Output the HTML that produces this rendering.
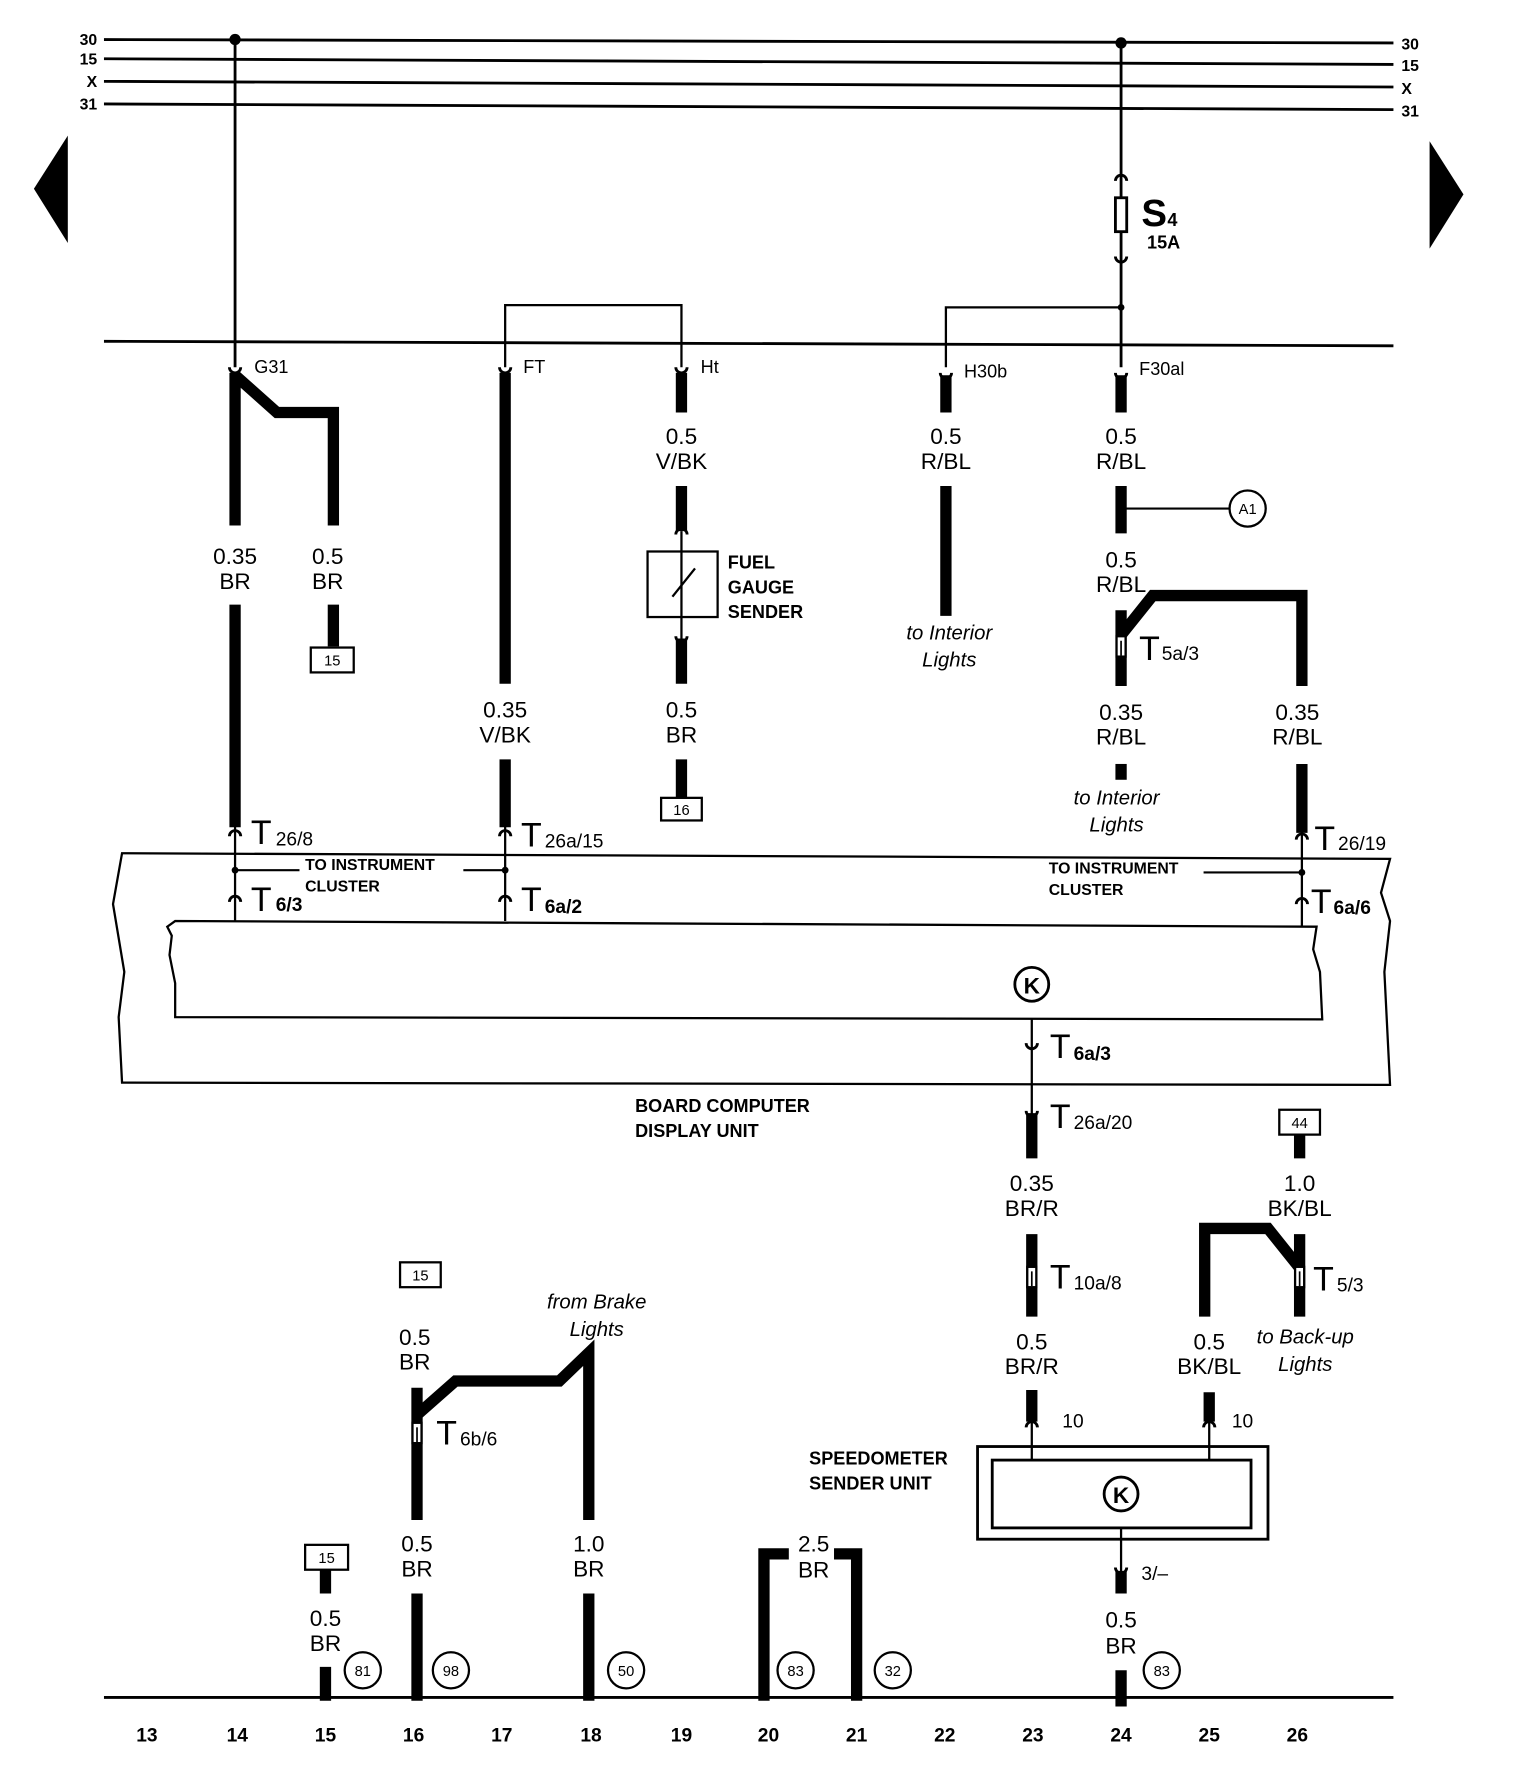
<!DOCTYPE html>
<html><head><meta charset="utf-8"><style>
html,body{margin:0;padding:0;background:#fff;width:1520px;height:1772px;overflow:hidden}
svg{display:block}
text{font-family:"Liberation Sans",sans-serif;fill:#000}
.w{font-size:20px;text-anchor:middle}
.b{font-weight:bold}
.i{font-style:italic;font-size:18px;text-anchor:middle}
.s{font-size:16px}
.T{font-size:30px}
.sub{font-size:17px}
.num{font-size:17px;font-weight:bold;text-anchor:middle}
.c{font-size:13px;text-anchor:middle}
</style></head><body>
<svg width="1520" height="1772" viewBox="0 0 1345 1568" preserveAspectRatio="none" xmlns="http://www.w3.org/2000/svg">
<defs>
<g id="cu"><path d="M-5,5 A5,5 0 0 1 5,5" fill="none" stroke="#000" stroke-width="2.5"/></g>
<g id="cd"><path d="M-5,-5 A5,5 0 0 0 5,-5" fill="none" stroke="#000" stroke-width="2.5"/></g>
<g id="ci"><rect x="-4" y="-9" width="8" height="18" fill="#fff" stroke="#000" stroke-width="2"/><line x1="0" y1="-5" x2="0" y2="8" stroke="#000" stroke-width="1.5"/></g>
</defs>
<g stroke="#000" fill="none">
<!-- bus lines -->
<line x1="92" y1="35" x2="1233" y2="38" stroke-width="2.5"/>
<line x1="92" y1="52" x2="1233" y2="57" stroke-width="2.5"/>
<line x1="92" y1="72" x2="1233" y2="77" stroke-width="2.5"/>
<line x1="92" y1="92" x2="1233" y2="97" stroke-width="2.5"/>
<line x1="92" y1="302" x2="1233" y2="306" stroke-width="2.5"/>
<!-- thin wires -->
<line x1="208" y1="35" x2="208" y2="325" stroke-width="2.5"/>
<line x1="992" y1="38" x2="992" y2="325" stroke-width="2.5"/>
<polyline points="447,325 447,270 603,270 603,325" stroke-width="2"/>
<polyline points="837,325 837,272 992,272" stroke-width="2"/>
<line x1="603" y1="470" x2="603" y2="565" stroke-width="2"/>
<line x1="992" y1="450" x2="1088" y2="450" stroke-width="1.8"/>
<line x1="208" y1="730" x2="208" y2="815" stroke-width="2"/>
<line x1="447" y1="730" x2="447" y2="815" stroke-width="2"/>
<line x1="1152" y1="735" x2="1152" y2="820" stroke-width="2"/>
<line x1="208" y1="770" x2="265" y2="770" stroke-width="1.8"/>
<line x1="410" y1="770" x2="447" y2="770" stroke-width="1.8"/>
<line x1="1065" y1="772" x2="1152" y2="772" stroke-width="1.8"/>
<line x1="913" y1="902" x2="913" y2="990" stroke-width="2"/>
<line x1="913" y1="1255" x2="913" y2="1292" stroke-width="2"/>
<line x1="1070" y1="1255" x2="1070" y2="1292" stroke-width="2"/>
<line x1="992" y1="1352" x2="992" y2="1392" stroke-width="2"/>
<!-- thick wires -->
<g stroke-width="10" stroke-linejoin="miter">
<polyline points="208,330 208,465"/>
<polyline points="208,332 245,365 295,365 295,465"/>
<line x1="208" y1="535" x2="208" y2="732"/>
<line x1="295" y1="535" x2="295" y2="572"/>
<line x1="447" y1="330" x2="447" y2="605"/>
<line x1="447" y1="672" x2="447" y2="732"/>
<line x1="603" y1="330" x2="603" y2="365"/>
<line x1="603" y1="430" x2="603" y2="470"/>
<line x1="603" y1="565" x2="603" y2="605"/>
<line x1="603" y1="672" x2="603" y2="706"/>
<line x1="837" y1="332" x2="837" y2="365"/>
<line x1="837" y1="430" x2="837" y2="545"/>
<line x1="992" y1="332" x2="992" y2="365"/>
<line x1="992" y1="430" x2="992" y2="472"/>
<line x1="992" y1="540" x2="992" y2="607"/>
<polyline points="992,562 1020,527 1152,527 1152,607"/>
<line x1="992" y1="676" x2="992" y2="690"/>
<line x1="1152" y1="676" x2="1152" y2="737"/>
<line x1="913" y1="985" x2="913" y2="1025"/>
<line x1="913" y1="1092" x2="913" y2="1165"/>
<line x1="913" y1="1230" x2="913" y2="1258"/>
<line x1="1150" y1="1004" x2="1150" y2="1025"/>
<line x1="1150" y1="1092" x2="1150" y2="1165"/>
<polyline points="1150,1122 1122,1087 1066,1087 1066,1165"/>
<line x1="1070" y1="1232" x2="1070" y2="1258"/>
<line x1="992" y1="1390" x2="992" y2="1410"/>
<line x1="992" y1="1478" x2="992" y2="1510"/>
<line x1="288" y1="1389" x2="288" y2="1410"/>
<line x1="288" y1="1475" x2="288" y2="1505"/>
<line x1="369" y1="1228" x2="369" y2="1345"/>
<polyline points="369,1252 403,1222 495,1222 521,1197 521,1345"/>
<line x1="369" y1="1410" x2="369" y2="1505"/>
<line x1="521" y1="1410" x2="521" y2="1505"/>
<polyline points="676,1505 676,1375 698,1375"/>
<polyline points="758,1505 758,1375 738,1375"/>
</g>
<!-- bottom line -->
<line x1="92" y1="1502" x2="1233" y2="1502" stroke-width="2.5"/>
<!-- boxes -->
<rect x="573" y="488" width="62" height="58" stroke-width="2"/>
<line x1="595" y1="528" x2="615" y2="503" stroke-width="2"/>
<path d="M108,755 L1230,760 L1222,790 L1230,815 L1225,860 L1230,960 L108,958 L105,900 L110,860 L100,800 Z" stroke-width="2"/>
<path d="M155,815 L1165,820 L1162,840 L1168,860 L1170,902 L155,900 L155,870 L150,845 L152,828 L148,820 Z" fill="#fff" stroke-width="2"/>
<rect x="865" y="1280" width="257" height="82" stroke-width="2.5"/>
<rect x="878" y="1292" width="229" height="60" stroke-width="2.5"/>
<rect x="275" y="573" width="38" height="22" stroke-width="2"/>
<rect x="585" y="706" width="36" height="20" stroke-width="2"/>
<rect x="1132" y="982" width="36" height="22" stroke-width="2"/>
<rect x="354" y="1117" width="36" height="22" stroke-width="2"/>
<rect x="270" y="1367" width="38" height="22" stroke-width="2"/>
<!-- circles -->
<circle cx="1104" cy="450" r="16" stroke-width="2"/>
<circle cx="913" cy="871" r="15" stroke-width="2.5"/>
<circle cx="992" cy="1322" r="15" stroke-width="2.5"/>
<circle cx="321" cy="1478" r="16" stroke-width="2"/>
<circle cx="399" cy="1478" r="16" stroke-width="2"/>
<circle cx="554" cy="1478" r="16" stroke-width="2"/>
<circle cx="704" cy="1478" r="16" stroke-width="2"/>
<circle cx="790" cy="1478" r="16" stroke-width="2"/>
<circle cx="1028" cy="1478" r="16" stroke-width="2"/>
<!-- fuse -->
<rect x="987" y="175" width="10" height="30" stroke-width="2.5" fill="#fff"/>
</g>
<g fill="#000">
<circle cx="208" cy="35" r="5"/><circle cx="992" cy="38" r="5"/><circle cx="992" cy="272" r="3"/>
<circle cx="208" cy="770" r="3"/><circle cx="447" cy="770" r="3"/><circle cx="1152" cy="772" r="3"/>
<polygon points="60,120 30,167 60,215"/>
<polygon points="1265,125 1295,172 1265,220"/>
</g>
<!-- connector symbols -->
<use href="#cd" x="208" y="330"/><use href="#cd" x="447" y="330"/><use href="#cd" x="603" y="330"/>
<use href="#cd" x="837" y="335"/><use href="#cd" x="992" y="335"/>
<use href="#cu" x="992" y="155"/><use href="#cd" x="992" y="232"/>
<use href="#cu" x="603" y="468"/><use href="#cd" x="603" y="568"/>
<use href="#cu" x="208" y="735"/><use href="#cu" x="447" y="735"/><use href="#cu" x="1152" y="738"/>
<use href="#cu" x="208" y="793"/><use href="#cu" x="447" y="793"/><use href="#cu" x="1152" y="795"/>
<use href="#cd" x="913" y="928"/><use href="#cd" x="913" y="988"/>
<use href="#cu" x="913" y="1258"/><use href="#cu" x="1070" y="1258"/><use href="#cd" x="992" y="1392"/>
<use href="#ci" x="992" y="572"/><use href="#ci" x="913" y="1130"/><use href="#ci" x="1150" y="1130"/><use href="#ci" x="369" y="1268"/>
<!-- bus labels -->
<g class="b" font-size="14">
<text x="86" y="40" text-anchor="end">30</text><text x="86" y="57" text-anchor="end">15</text><text x="86" y="77" text-anchor="end">X</text><text x="86" y="97" text-anchor="end">31</text>
<text x="1240" y="44">30</text><text x="1240" y="63">15</text><text x="1240" y="83">X</text><text x="1240" y="103">31</text>
</g>
<!-- small labels -->
<text class="s" x="225" y="330">G31</text>
<text class="s" x="463" y="330">FT</text>
<text class="s" x="620" y="330">Ht</text>
<text class="s" x="853" y="334">H30b</text>
<text class="s" x="1008" y="332">F30al</text>
<text x="1010" y="200" font-size="34" font-weight="bold">S</text><text x="1033" y="200" font-size="16" font-weight="bold">4</text>
<text x="1015" y="220" font-size="16" font-weight="bold">15A</text>
<text class="c" x="1104" y="455">A1</text>
<!-- wire labels -->
<g class="w">
<text x="208" y="499">0.35</text><text x="208" y="521">BR</text>
<text x="290" y="499">0.5</text><text x="290" y="521">BR</text>
<text x="447" y="635">0.35</text><text x="447" y="657">V/BK</text>
<text x="603" y="393">0.5</text><text x="603" y="415">V/BK</text>
<text x="603" y="635">0.5</text><text x="603" y="657">BR</text>
<text x="837" y="393">0.5</text><text x="837" y="415">R/BL</text>
<text x="992" y="393">0.5</text><text x="992" y="415">R/BL</text>
<text x="992" y="502">0.5</text><text x="992" y="524">R/BL</text>
<text x="992" y="637">0.35</text><text x="992" y="659">R/BL</text>
<text x="1148" y="637">0.35</text><text x="1148" y="659">R/BL</text>
<text x="913" y="1054">0.35</text><text x="913" y="1076">BR/R</text>
<text x="1150" y="1054">1.0</text><text x="1150" y="1076">BK/BL</text>
<text x="913" y="1194">0.5</text><text x="913" y="1216">BR/R</text>
<text x="1070" y="1194">0.5</text><text x="1070" y="1216">BK/BL</text>
<text x="992" y="1440">0.5</text><text x="992" y="1463">BR</text>
<text x="288" y="1439">0.5</text><text x="288" y="1461">BR</text>
<text x="367" y="1190">0.5</text><text x="367" y="1212">BR</text>
<text x="369" y="1373">0.5</text><text x="369" y="1395">BR</text>
<text x="521" y="1373">1.0</text><text x="521" y="1395">BR</text>
<text x="720" y="1373">2.5</text><text x="720" y="1396">BR</text>
</g>
<g class="i">
<text x="840" y="566">to Interior</text><text x="840" y="590">Lights</text>
<text x="988" y="712">to Interior</text><text x="988" y="736">Lights</text>
<text x="528" y="1158">from Brake</text><text x="528" y="1182">Lights</text>
<text x="1155" y="1189">to Back-up</text><text x="1155" y="1213">Lights</text>
</g>
<g class="b" font-size="16">
<text x="644" y="503">FUEL</text><text x="644" y="525">GAUGE</text><text x="644" y="547">SENDER</text>
<text x="562" y="984">BOARD COMPUTER</text><text x="562" y="1006">DISPLAY UNIT</text>
<text x="716" y="1296">SPEEDOMETER</text><text x="716" y="1318">SENDER UNIT</text>
</g>
<g class="b" font-size="14">
<text x="270" y="770">TO INSTRUMENT</text><text x="270" y="789">CLUSTER</text>
<text x="928" y="773">TO INSTRUMENT</text><text x="928" y="792">CLUSTER</text>
</g>
<!-- T labels -->
<g>
<text class="T" x="222" y="747">T</text><text class="sub" x="244" y="748">26/8</text>
<text class="T" x="461" y="749">T</text><text class="sub" x="482" y="750">26a/15</text>
<text class="T" x="1163" y="752">T</text><text class="sub" x="1184" y="752">26/19</text>
<text class="T" x="222" y="806">T</text><text class="sub b" x="244" y="806">6/3</text>
<text class="T" x="461" y="806">T</text><text class="sub b" x="482" y="808">6a/2</text>
<text class="T" x="1160" y="808">T</text><text class="sub b" x="1180" y="809">6a/6</text>
<text class="T" x="929" y="936">T</text><text class="sub b" x="950" y="938">6a/3</text>
<text class="T" x="929" y="998">T</text><text class="sub" x="950" y="999">26a/20</text>
<text class="T" x="1008" y="584">T</text><text class="sub" x="1028" y="584">5a/3</text>
<text class="T" x="929" y="1140">T</text><text class="sub" x="950" y="1141">10a/8</text>
<text class="T" x="1162" y="1142">T</text><text class="sub" x="1183" y="1143">5/3</text>
<text class="T" x="386" y="1278">T</text><text class="sub" x="407" y="1279">6b/6</text>
</g>
<text x="940" y="1263" font-size="17">10</text>
<text x="1090" y="1263" font-size="17">10</text>
<text x="1010" y="1398" font-size="17">3/–</text>
<text x="913" y="879" font-size="20" font-weight="bold" text-anchor="middle">K</text>
<text x="992" y="1330" font-size="20" font-weight="bold" text-anchor="middle">K</text>
<g class="c">
<text x="294" y="589">15</text><text x="603" y="721">16</text><text x="1150" y="998">44</text>
<text x="372" y="1133">15</text><text x="289" y="1383">15</text>
<text x="321" y="1483">81</text><text x="399" y="1483">98</text><text x="554" y="1483">50</text>
<text x="704" y="1483">83</text><text x="790" y="1483">32</text><text x="1028" y="1483">83</text>
</g>
<g class="num">
<text x="130" y="1541">13</text><text x="210" y="1541">14</text><text x="288" y="1541">15</text><text x="366" y="1541">16</text>
<text x="444" y="1541">17</text><text x="523" y="1541">18</text><text x="603" y="1541">19</text><text x="680" y="1541">20</text>
<text x="758" y="1541">21</text><text x="836" y="1541">22</text><text x="914" y="1541">23</text><text x="992" y="1541">24</text>
<text x="1070" y="1541">25</text><text x="1148" y="1541">26</text>
</g>
</svg>
</body></html>
